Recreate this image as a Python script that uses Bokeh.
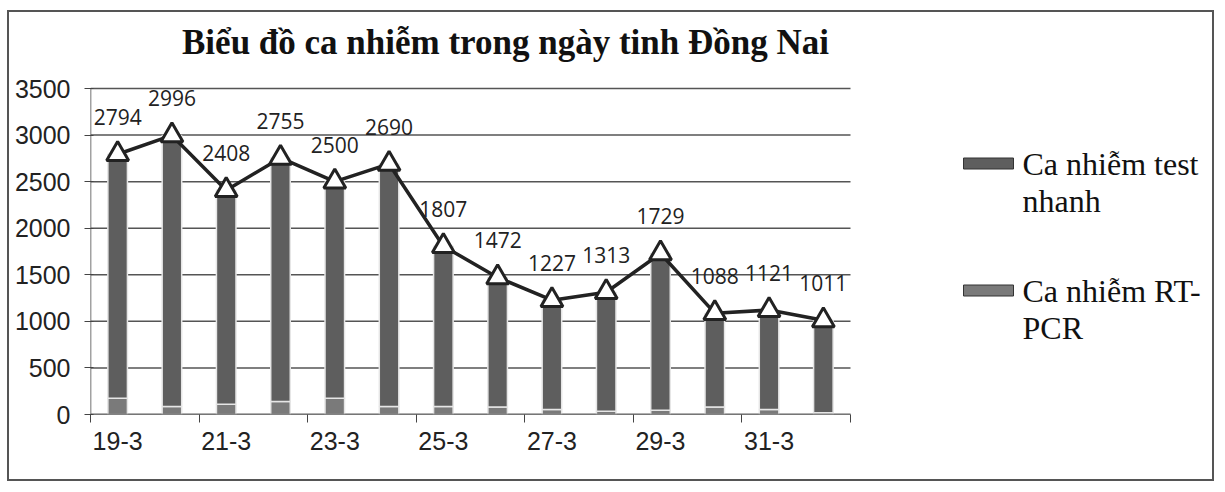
from bokeh.plotting import figure
from bokeh.models import (ColumnDataSource, FixedTicker, LabelSet, Range1d)
from bokeh.core.properties import value
from bokeh.embed import file_html
from bokeh.resources import INLINE

# ---- data ----
dates = ["19-3", "20-3", "21-3", "22-3", "23-3", "24-3", "25-3",
         "26-3", "27-3", "28-3", "29-3", "30-3", "31-3", "1-4"]
total = [2794, 2996, 2408, 2755, 2500, 2690, 1807,
         1472, 1227, 1313, 1729, 1088, 1121, 1011]
rtpcr = [175, 85, 110, 140, 175, 85, 85,
         80, 55, 35, 45, 80, 55, 20]
nhanh = [t - r for t, r in zip(total, rtpcr)]
y_ticks = [0, 500, 1000, 1500, 2000, 2500, 3000, 3500]

title_text = "Biểu đồ ca nhiễm trong ngày tinh Đồng Nai"
series_names = [["Ca nhiễm test", "nhanh"], ["Ca nhiễm RT-", "PCR"]]
series_colors = ["#5e5e5e", "#7a7a7a"]   # test nhanh, RT-PCR

n = len(dates)
idx = list(range(n))
src = ColumnDataSource(dict(x=idx, date=dates, total=total, rtpcr=rtpcr,
                            nhanh=nhanh, lbl=[str(v) for v in total]))

# layout constants (pixels)
W, H = 1207, 471
ML, MR, MB = 81, 2, 69
plot_w_px = 760          # width occupied by the categories
plot_h_px = 326          # height of the 0..3500 value area
top_px = 76              # space above the value area (title lives there)
frame_w = W - ML - MR
y0, y1 = y_ticks[0], y_ticks[-1]
x_end = -0.5 + n * frame_w / plot_w_px
y_end = y1 + top_px * (y1 - y0) / plot_h_px
ux = n / plot_w_px               # data units per pixel, x
uy = (y1 - y0) / plot_h_px       # data units per pixel, y

def px_x(px):   # pixels right of the value area's left edge -> data x
    return -0.5 + px * ux

def px_y(px):   # pixels above the value area's bottom -> data y
    return y0 + px * uy

p = figure(width=W, height=H, output_backend="svg", toolbar_location=None,
           x_range=Range1d(-0.5, x_end), y_range=Range1d(y0, y_end),
           min_border_left=ML, min_border_right=MR, min_border_top=0,
           min_border_bottom=MB)
p.styles = {"border": "2px solid #555", "margin-left": "7px", "margin-top": "10px"}
p.outline_line_color = None
p.background_fill_color = "white"
p.xgrid.grid_line_color = None
p.ygrid.grid_line_color = None

# title
p.text(x=[px_x(415)], y=[px_y(plot_h_px + 46)], text=[title_text],
       text_align="center", text_baseline="middle",
       text_font=value("Liberation Serif"), text_font_style="bold",
       text_font_size="35px", text_color="#111")

# horizontal gridlines limited to the category area
p.segment(x0=[-0.5] * len(y_ticks), x1=[n - 0.5] * len(y_ticks),
          y0=y_ticks, y1=y_ticks, line_color="#555", line_width=1.5)

# bars (RT-PCR at the bottom, test nhanh stacked on top)
rs = p.vbar_stack(["rtpcr", "nhanh"], x="x", width=0.36, source=src,
                  fill_color=[series_colors[1], series_colors[0]],
                  line_color="#e6e6e6", line_width=1.5)

# axis lines
p.segment(x0=[-0.5], x1=[n - 0.5], y0=[y0], y1=[y0], line_color="#444", line_width=1.5)
p.segment(x0=[-0.5], x1=[-0.5], y0=[y0], y1=[y1], line_color="#444", line_width=1.5)

# line with triangles
p.line("x", "total", source=src, line_color="#222", line_width=3.5)
p.scatter("x", "total", source=src, marker="triangle", size=22,
          fill_color="white", line_color="#222", line_width=3)

labels = LabelSet(x="x", y="total", text="lbl", source=src,
                  text_align="center", text_baseline="middle", y_offset=37,
                  text_font=value("Open Sans"), text_font_size=value("21px"),
                  text_color="#222")
p.add_layout(labels)

# legend (swatch + two-line serif label per series)
leg_first_line = [251, 124]      # px above the value-area bottom, first text line
line_step = 37
p.rect(x=[px_x(898)] * 2, y=[px_y(v) for v in leg_first_line], width=50, height=11,
       width_units="screen", height_units="screen",
       fill_color=series_colors, line_color="#333", line_width=1)
lx, ly, lt = [], [], []
for base, lines in zip(leg_first_line, series_names):
    for k, line in enumerate(lines):
        lx.append(px_x(932))
        ly.append(px_y(base - k * line_step))
        lt.append(line)
p.text(x=lx, y=ly, text=lt, text_align="left", text_baseline="middle",
       text_font=value("Liberation Serif"), text_font_size="32px", text_color="#111")

# axes
p.yaxis.ticker = FixedTicker(ticks=y_ticks)
p.yaxis.major_label_text_font = "Liberation Sans"
p.yaxis.major_label_text_font_size = "25px"
p.yaxis.major_label_text_color = "#222"
p.yaxis.axis_line_color = None
p.yaxis.major_tick_in = 3
p.yaxis.major_tick_out = 6
p.yaxis.major_tick_line_color = "#444"
p.yaxis.minor_tick_line_color = None
p.yaxis.major_label_standoff = 14

p.xaxis.ticker = FixedTicker(ticks=idx[::2],
                             minor_ticks=[i - 0.5 for i in idx[::2]] + [n - 0.5])
p.xaxis.major_label_overrides = {i: dates[i] for i in idx[::2]}
p.xaxis.major_label_text_font = "Liberation Sans"
p.xaxis.major_label_text_font_size = "25px"
p.xaxis.major_label_text_color = "#222"
p.xaxis.major_tick_line_color = None
p.xaxis.minor_tick_line_color = "#444"
p.xaxis.minor_tick_in = 0
p.xaxis.minor_tick_out = 8
p.xaxis.axis_line_color = None
p.xaxis.major_label_standoff = 9

open("out.html", "w").write(file_html(p, INLINE))
